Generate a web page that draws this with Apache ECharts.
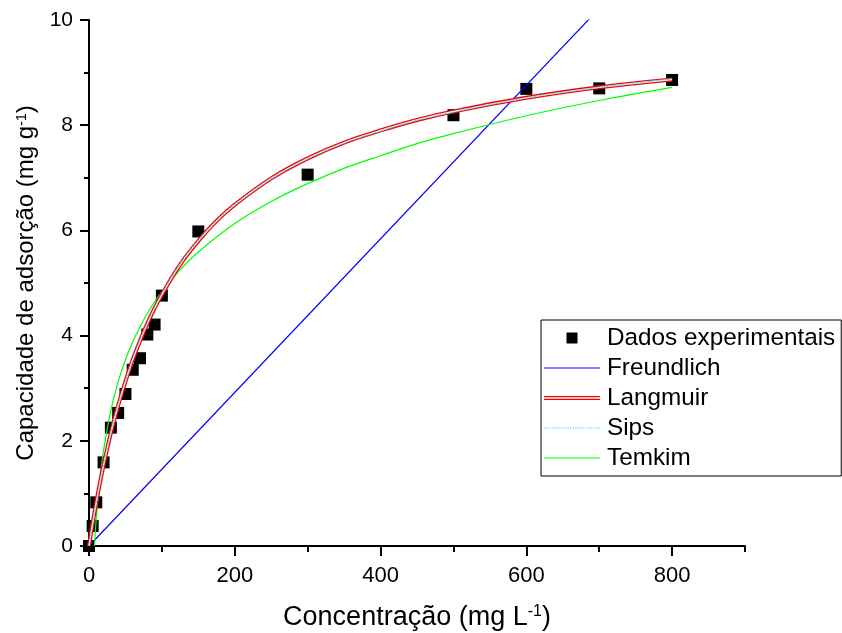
<!DOCTYPE html>
<html>
<head>
<meta charset="utf-8">
<script src="https://cdn.jsdelivr.net/npm/echarts@6/dist/echarts.min.js"></script>
<style>
  html, body { margin: 0; padding: 0; background: #fff; }
  #chart { width: 842px; height: 633px; }
</style>
</head>
<body>
<div id="chart"></div>
<script>
// pontos experimentais
var expX = [0, 5, 10, 20, 30, 40, 50, 60, 70, 80, 90, 100, 150, 300, 500, 600, 700, 800];
var expY = [0, 0.38, 0.83, 1.59, 2.25, 2.53, 2.89, 3.35, 3.57, 4.02, 4.21, 4.76, 5.98, 7.06, 8.19, 8.69, 8.70, 8.86];

// curvas ajustadas
var fitX = [0, 5, 10, 15, 20, 30, 40, 50, 60, 70, 80, 90, 100, 125, 150, 175, 200, 250, 300, 350, 400, 450, 500, 600, 700, 800];
var langY = [0, 0.43, 0.83, 1.20, 1.54, 2.15, 2.67, 3.13, 3.54, 3.90, 4.23, 4.52, 4.78, 5.35, 5.80, 6.18, 6.49, 6.99, 7.37, 7.67, 7.90, 8.10, 8.26, 8.52, 8.72, 8.87];
var sipsY = [0, 0.42, 0.82, 1.20, 1.53, 2.15, 2.67, 3.13, 3.55, 3.91, 4.24, 4.52, 4.79, 5.36, 5.81, 6.18, 6.49, 6.99, 7.36, 7.66, 7.89, 8.09, 8.25, 8.52, 8.72, 8.88];

var temX = [7.5, 10, 12.5, 15, 20, 30, 40, 50, 60, 70, 80, 90, 100, 125, 150, 200, 250, 300, 350, 400, 450, 500, 600, 700, 800];
var temY = [0, 0.53, 0.94, 1.28, 1.82, 2.58, 3.12, 3.54, 3.88, 4.17, 4.42, 4.64, 4.83, 5.25, 5.59, 6.13, 6.55, 6.89, 7.18, 7.42, 7.65, 7.84, 8.18, 8.47, 8.72];

var freX = [0, 800];
var freY = [0, 11.68];

var xLabels = [0, 200, 400, 600, 800];

function pairs(xs, ys) {
    var out = [];
    for (var i = 0; i < xs.length; i++) {
        out.push([xs[i], ys[i]]);
    }
    return out;
}

// icones da legenda (56x14), com pontinhos nos cantos para fixar a caixa
var box = 'M0,0h0.01v0.01h-0.01Z M55.99,13.99h0.01v0.01h-0.01Z ';
var iconSquare = 'path://' + box + 'M22.5,1.5h11v11h-11Z';
var iconLine = 'path://' + box + 'M0,6.4h56v1.2h-56Z';
var iconDouble = 'path://' + box + 'M0,4.9h56v1.4h-56Z M0,7.7h56v1.4h-56Z';
var dots = '';
for (var d = 0; d < 56; d += 2.6) {
    dots += 'M' + d + ',6.4h1.3v1.2h-1.3Z ';
}
var iconDots = 'path://' + box + dots;

var font = 'Arial, "Liberation Sans", sans-serif';

var chart = echarts.init(document.getElementById('chart'));

function fitLine(name, color, width, ys, xs, extra) {
    var s = {
        name: name,
        type: 'line',
        color: color,
        symbol: 'none',
        smooth: 0.4,
        lineStyle: { color: color, width: width },
        data: pairs(xs, ys)
    };
    if (extra) s.lineStyle.type = extra;
    return s;
}

chart.setOption({
    animation: false,
    backgroundColor: '#fff',
    grid: [
        { left: 89, right: 97, top: 20, bottom: 87, outerBoundsMode: 'none' },
        { left: 89, right: 97, top: 20, bottom: 87, outerBoundsMode: 'none' }
    ],
    legend: {
        orient: 'vertical',
        left: 541,
        top: 320,
        align: 'left',
        padding: [6, 6, 6, 3],
        borderColor: '#000',
        borderWidth: 1,
        itemWidth: 56,
        itemHeight: 14,
        itemGap: 6,
        textStyle: {
            fontFamily: font,
            fontSize: 24.3,
            color: '#000',
            lineHeight: 24,
            padding: [0, 0, 0, 2]
        },
        data: [
            { name: 'Dados experimentais', icon: iconSquare },
            { name: 'Freundlich', icon: iconLine },
            { name: 'Langmuir', icon: iconDouble },
            { name: 'Sips', icon: iconDots },
            { name: 'Temkim', icon: iconLine }
        ]
    },
    xAxis: [
        {
            type: 'value',
            gridIndex: 0,
            min: 0,
            max: 900,
            interval: 100,
            name: 'Concentração (mg L{sup|-1})',
            nameLocation: 'middle',
            nameGap: 58,
            nameTextStyle: {
                fontFamily: font,
                fontSize: 27,
                color: '#000',
                rich: {
                    sup: { fontFamily: font, fontSize: 16, color: '#000', verticalAlign: 'top', padding: [0, 0, 12, 0] }
                }
            },
            axisLine: { lineStyle: { color: '#000', width: 2 } },
            axisTick: { length: 6, lineStyle: { color: '#000', width: 2 } },
            axisLabel: {
                customValues: xLabels,
                margin: 19,
                fontFamily: font,
                fontSize: 22,
                color: '#000'
            },
            splitLine: { show: false }
        },
        {
            // so os tracos maiores em 0, 200, ... 800
            type: 'value',
            gridIndex: 1,
            position: 'bottom',
            min: 0,
            max: 900,
            interval: 200,
            axisLine: { show: false },
            axisTick: { length: 10, lineStyle: { color: '#000', width: 2 }, customValues: xLabels },
            axisLabel: { show: false },
            splitLine: { show: false }
        }
    ],
    yAxis: [
        {
            type: 'value',
            gridIndex: 0,
            min: 0,
            max: 10,
            interval: 2,
            name: 'Capacidade de adsorção (mg g{sup|-1})',
            nameLocation: 'middle',
            nameGap: 46,
            nameTextStyle: {
                fontFamily: font,
                fontSize: 24,
                color: '#000',
                rich: {
                    sup: { fontFamily: font, fontSize: 14, color: '#000', verticalAlign: 'top', padding: [0, 0, 10, 0] }
                }
            },
            axisLine: { show: true, lineStyle: { color: '#000', width: 2 } },
            axisTick: { show: true, length: 9, lineStyle: { color: '#000', width: 2 } },
            minorTick: { show: true, splitNumber: 2, length: 5, lineStyle: { color: '#000', width: 2 } },
            axisLabel: { margin: 16, fontFamily: font, fontSize: 21, color: '#000' },
            splitLine: { show: false }
        },
        {
            type: 'value',
            gridIndex: 1,
            min: 0,
            max: 10,
            show: false
        }
    ],
    series: [
        {
            name: 'Dados experimentais',
            type: 'scatter',
            symbol: 'rect',
            symbolSize: 12,
            color: '#000',
            itemStyle: { color: '#000', opacity: 1 },
            data: pairs(expX, expY)
        },
        fitLine('Freundlich', '#0000ff', 1.2, freY, freX),
        fitLine('Temkim', '#00ff00', 1.2, temY, temX),
        fitLine('Langmuir', '#ff0000', 4, langY, fitX),
        // miolo branco da linha dupla
        fitLine('langmuir-core', '#ffffff', 1.4, langY, fitX),
        fitLine('Sips', '#00e5ff', 1.3, sipsY, fitX, [1.3, 1.3])
    ]
});
</script>
</body>
</html>
